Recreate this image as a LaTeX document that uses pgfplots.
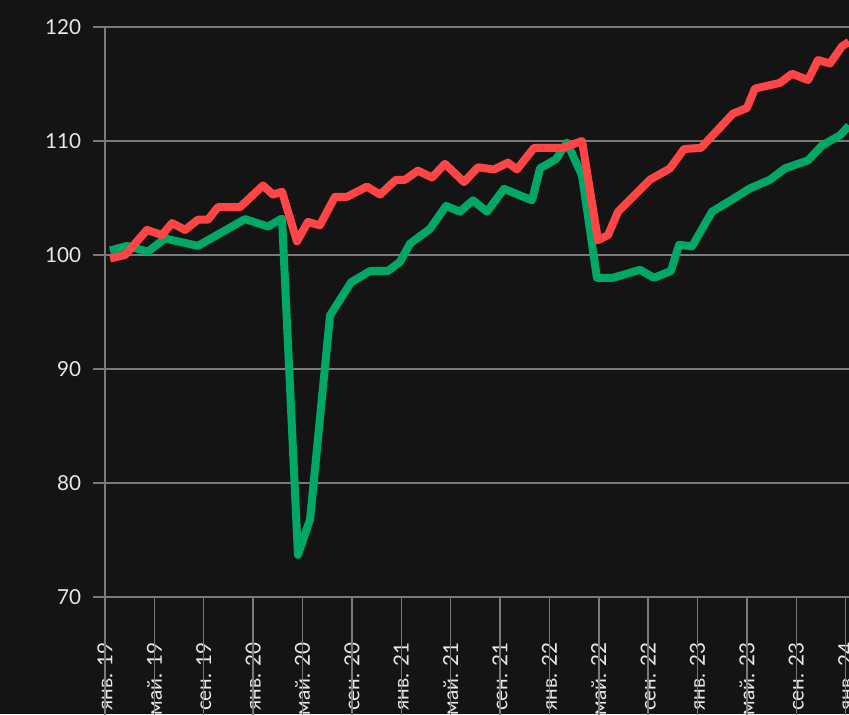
\documentclass[border=0pt]{standalone}
\usepackage{fontspec}
\setmainfont{Lato}
\usepackage{pgfplots}
\pgfplotsset{compat=1.18}
\definecolor{bg}{HTML}{141414}
\definecolor{gridc}{HTML}{7A7A7A}
\definecolor{redl}{HTML}{FF4545}
\definecolor{greenl}{HTML}{00A866}
\definecolor{lab}{HTML}{E8E8E8}
\begin{document}
\begin{tikzpicture}
\path[use as bounding box, fill=bg] (0,0) rectangle (636.75pt,535.5pt);
\clip (0,0) rectangle (636.75pt,535.5pt);
\begin{axis}[
  at={(78.75pt,87.75pt)}, anchor=south west,
  width=558pt, height=427.5pt, scale only axis,
  xmin=0, xmax=60.27, ymin=70, ymax=120,
  axis line style={draw=none},
  ytick={70,80,...,120},
  xtick={0,4,...,60},
  xticklabels={янв. 19,май. 19,сен. 19,янв. 20,май. 20,сен. 20,янв. 21,май. 21,сен. 21,янв. 22,май. 22,сен. 22,янв. 23,май. 23,сен. 23,янв. 24},
  tick pos=left,
  ymajorgrids,
  major grid style={gridc, line width=1.1pt},
  tick align=outside,
  tick style={gridc, line width=1.1pt},
  major tick length=9pt,
  xtick style={draw=none},
  /pgf/number format/assume math mode=true,
  tick label style={font=\fontsize{15.5}{18}\selectfont, text=lab},
  xticklabel style={rotate=90, anchor=east, inner xsep=25pt},
  yticklabel style={inner xsep=8.8pt},
  clip=false,
]
\draw[gridc, line width=1.1pt] (axis cs:0,70) -- (axis cs:0,120);
\pgfplotsinvokeforeach{0,4,8,12,16,20,24,28,32,36,40,44,48,52,56,60}{
  \draw[gridc, line width=1.1pt] (axis cs:#1,70) -- ++(0,-21pt);
}
\addplot[greenl, line width=6pt, line join=round] coordinates {
(0.41,100.4) (1.78,100.8) (3.48,100.3) (4.86,101.45) (7.53,100.8) (11.34,103.15)
(13.20,102.5) (14.34,103.2) (15.63,73.7) (16.61,76.8) (18.23,94.7) (19.93,97.6)
(21.47,98.6) (22.92,98.6) (23.90,99.4) (24.71,101.0) (26.33,102.3) (27.62,104.3)
(28.76,103.8) (29.81,104.8) (30.94,103.8) (32.32,105.8) (34.59,104.8) (35.24,107.6)
(36.53,108.4) (37.42,109.85) (38.64,107.0) (39.85,98.0) (41.15,98.0) (43.34,98.7)
(44.47,98.0) (45.85,98.6) (46.50,100.9) (47.55,100.75) (49.17,103.8) (50.55,104.7)
(52.25,105.85) (53.87,106.6) (55.08,107.6) (56.95,108.3) (58.08,109.6) (59.54,110.5)
(60.27,111.35)
};
\addplot[redl, line width=6pt, line join=round] coordinates {
(0.41,99.7) (1.62,100.0) (3.40,102.2) (4.62,101.75) (5.43,102.8) (6.48,102.2)
(7.53,103.1) (8.34,103.1) (9.15,104.2) (10.94,104.2) (12.80,106.1) (13.61,105.3)
(14.34,105.55) (15.55,101.2) (16.44,102.9) (17.40,102.6) (18.63,105.1) (19.60,105.1)
(21.22,106.0) (22.28,105.3) (23.57,106.6) (24.30,106.6) (25.35,107.4) (26.49,106.8)
(27.54,108.0) (29.08,106.4) (30.21,107.7) (31.51,107.5) (32.64,108.1) (33.37,107.5)
(34.75,109.4) (37.10,109.4) (38.64,110.0) (39.94,101.3) (40.75,101.75) (41.56,103.8)
(44.15,106.6) (45.77,107.6) (46.91,109.3) (48.28,109.4) (50.87,112.4) (52.00,112.9)
(52.65,114.6) (54.68,115.1) (55.65,115.9) (56.95,115.35) (57.76,117.1) (58.73,116.8)
(59.70,118.3) (60.27,118.7)
};
\end{axis}
\end{tikzpicture}
\end{document}
